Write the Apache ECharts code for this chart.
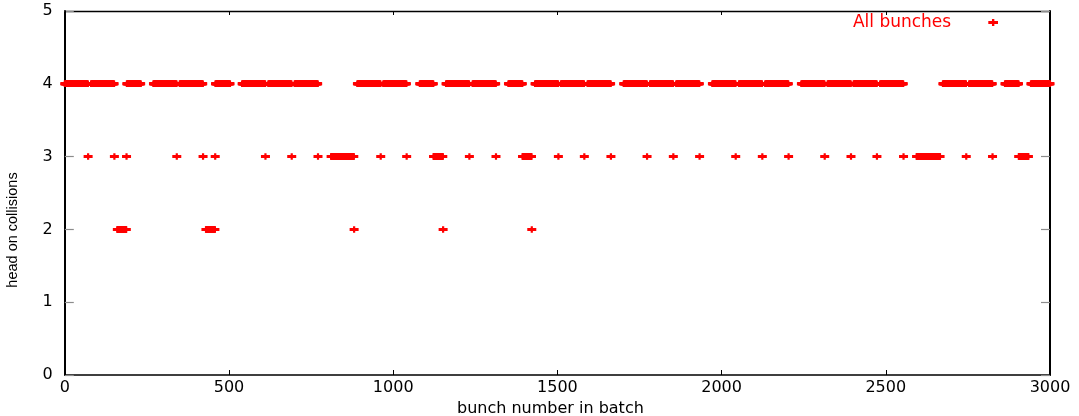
<!DOCTYPE html>
<html><head><meta charset="utf-8">
<script src="https://cdn.jsdelivr.net/npm/echarts@6/dist/echarts.min.js"></script>
<style>html,body{margin:0;padding:0;background:#fff}#c{width:1079px;height:416px}</style>
</head><body><div id="c"></div>
<script>
// Runs of consecutive bunch numbers [first, last] per number of head-on collisions
const runs4 = [[0,70],[80,150],[189,231],[270,340],[350,420],[459,503],[540,610],[620,690],[700,770],
  [891,961],[970,1040],[1081,1122],[1161,1231],[1242,1312],[1351,1393],[1432,1502],[1511,1581],[1592,1662],
  [1702,1772],[1782,1852],[1862,1932],[1972,2042],[2053,2123],[2133,2203],[2243,2313],[2323,2393],
  [2402,2472],[2483,2553],[2674,2744],[2754,2824],[2863,2904],[2942,3000]];
const runs3 = [[71,71],[151,151],[188,188],[341,341],[421,421],[458,458],[611,611],[691,691],[771,771],
  [811,880],[962,962],[1041,1041],[1123,1151],[1232,1232],[1313,1313],[1394,1421],[1503,1503],[1582,1582],
  [1663,1663],[1773,1773],[1853,1853],[1933,1933],[2043,2043],[2124,2124],[2204,2204],[2314,2314],
  [2394,2394],[2473,2473],[2554,2554],[2594,2665],[2745,2745],[2825,2825],[2905,2934]];
const runs2 = [[160,187],[430,457],[881,881],[1152,1152],[1422,1422]];
const seriesName = 'All bunches';
const xLabel = 'bunch number in batch';
const yLabel = 'head on collisions';

function expand(runs, level) {
  const pts = [];
  for (const [a, b] of runs) for (let x = a; x <= b; x++) pts.push([x, level]);
  return pts;
}
const points = [].concat(expand(runs4, 4), expand(runs3, 3), expand(runs2, 2));

const plus = 'path://M3.4,0L5.6,0L5.6,1.75L9,1.75L9,4.75L5.6,4.75L5.6,6.5L3.4,6.5L3.4,4.75L0,4.75L0,1.75L3.4,1.75Z';
const font = 'DejaVu Sans';

const chart = echarts.init(document.getElementById('c'));
chart.setOption({
  animation: false,
  backgroundColor: '#fff',
  grid: { left: 64.8, right: 29, top: 11, bottom: 41, containLabel: false, outerBoundsMode: 'none' },
  legend: {
    data: [seriesName], right: 76, top: 9, align: 'right',
    itemWidth: 74, itemHeight: 7, icon: plus,
    textStyle: { color: '#ff0000', fontSize: 17, fontFamily: font },
    itemStyle: { color: '#ff0000' }
  },
  xAxis: [{
    type: 'value', min: 0, max: 3000, interval: 500, position: 'bottom',
    axisLine: { show: true, onZero: false, lineStyle: { color: '#000', width: 1.6 } },
    axisTick: { show: true, inside: true, length: 5, lineStyle: { color: '#000', width: 1 } },
    axisLabel: { color: '#000', fontSize: 16, fontFamily: font, margin: 5, showMinLabel: true, showMaxLabel: true,
      formatter: v => String(v) },
    splitLine: { show: false },
    name: xLabel, nameLocation: 'middle', nameGap: 18,
    nameTextStyle: { color: '#000', fontSize: 16, fontFamily: font, padding: [0, 14, 0, 0] }
  }, {
    type: 'value', min: 0, max: 3000, interval: 500, position: 'top',
    axisLine: { show: true, onZero: false, lineStyle: { color: '#000', width: 1.4 } },
    axisTick: { show: true, inside: true, length: 4, lineStyle: { color: '#000', width: 1 } },
    axisLabel: { show: false }, splitLine: { show: false }
  }],
  yAxis: [{
    type: 'value', min: 0, max: 5, interval: 1, position: 'left',
    axisLine: { show: true, onZero: false, lineStyle: { color: '#000', width: 2 } },
    axisTick: { show: true, inside: true, length: 9, lineStyle: { color: '#8c8c8c', width: 1.2 } },
    axisLabel: { color: '#000', fontSize: 16, fontFamily: font, margin: 12 },
    splitLine: { show: false },
    name: yLabel, nameLocation: 'middle', nameGap: 44,
    nameTextStyle: { color: '#000', fontSize: 14.5, fontFamily: 'Liberation Sans', padding: [0, 74, 0, 0] }
  }, {
    type: 'value', min: 0, max: 5, interval: 1, position: 'right',
    axisLine: { show: true, onZero: false, lineStyle: { color: '#000', width: 2 } },
    axisTick: { show: true, inside: true, length: 9, lineStyle: { color: '#8c8c8c', width: 1.2 } },
    axisLabel: { show: false }, splitLine: { show: false }
  }],
  series: [{
    name: seriesName, type: 'scatter', xAxisIndex: 0, yAxisIndex: 0,
    symbol: plus, symbolSize: [9, 6.5],
    itemStyle: { color: '#ff0000', opacity: 1 },
    data: points
  }]
});
</script></body></html>
